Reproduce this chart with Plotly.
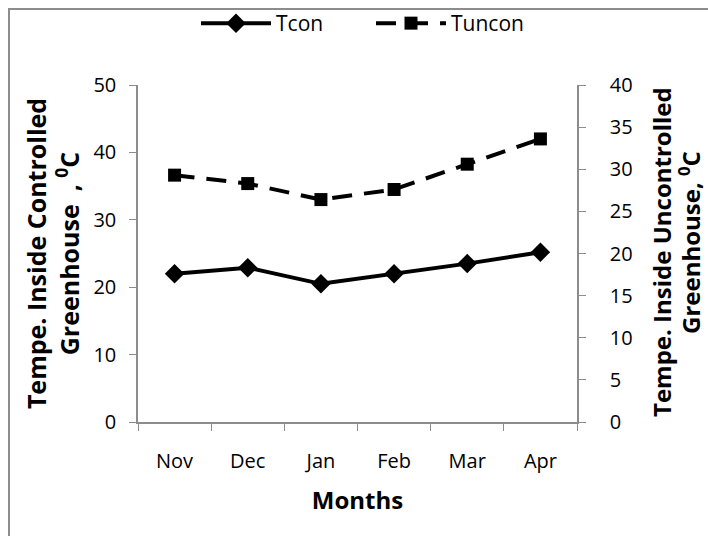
import plotly.graph_objects as go

months = ["Nov", "Dec", "Jan", "Feb", "Mar", "Apr"]
tcon = [22.0, 22.9, 20.5, 22.0, 23.5, 25.2]
tuncon = [29.3, 28.3, 26.4, 27.6, 30.6, 33.6]

W, H = 708, 536
L, R, T, B = 138, 131, 85, 114
pw, ph = W - L - R, H - T - B

def px_x(px):
    return (px - L) / pw

def px_y(py):
    return (H - B - py) / ph

FONT = "Open Sans"
fig = go.Figure()
fig.add_trace(go.Scatter(
    x=months, y=tcon, name="Tcon", mode="lines+markers",
    line=dict(color="black", width=4),
    marker=dict(symbol="diamond", size=15, color="black"),
    yaxis="y"))
fig.add_trace(go.Scatter(
    x=months, y=tuncon, name="Tuncon", mode="lines+markers",
    line=dict(color="black", width=4, dash="20px,12px"),
    marker=dict(symbol="square", size=13, color="black"),
    yaxis="y2"))

axis_common = dict(showgrid=False, zeroline=False, showline=True, linecolor="#8c8c8c",
                   linewidth=1.5, ticks="outside", ticklen=7, tickcolor="#8c8c8c",
                   tickfont=dict(family=FONT, size=20, color="black"))

fig.update_layout(
    width=W, height=H,
    margin=dict(l=L, r=R, t=T, b=B, autoexpand=False),
    paper_bgcolor="white", plot_bgcolor="white",
    font=dict(family=FONT, color="black"),
    showlegend=True,
    legend=dict(orientation="h", x=px_x(196), xanchor="left", y=px_y(3), yanchor="top",
                font=dict(family=FONT, size=21), itemwidth=70, entrywidth=90,
                bgcolor="rgba(0,0,0,0)"),
    xaxis=dict(type="category", tickson="boundaries", range=[-0.5, 5.5],
               ticklabelstandoff=20,
               title=dict(text="<b>Months</b>", font=dict(family=FONT, size=24), standoff=19),
               **axis_common),
    yaxis=dict(range=[0, 50], dtick=10, ticklabelstandoff=9,
               title=dict(text="<b>Tempe. Inside Controlled<br>Greenhouse  , <sup>0</sup>C</b>",
                          font=dict(family=FONT, size=25), standoff=7),
               **axis_common),
    yaxis2=dict(range=[0, 40], dtick=5, overlaying="y", side="right",
                tickprefix="\u2002\u2002",
                **axis_common),
)

right_title = ["<b>Tempe. Inside Uncontrolled</b>", "<b>Greenhouse, <sup>0</sup>C</b>"]
for txt, xpx, ypx in zip(right_title, [661, 689], [252, 243]):
    fig.add_annotation(text=txt, xref="paper", yref="paper", x=px_x(xpx), y=px_y(ypx),
                       xanchor="center", yanchor="middle", textangle=-90, showarrow=False,
                       font=dict(family=FONT, size=24, color="black"))

fig.add_shape(type="rect", xref="paper", yref="paper",
              x0=px_x(9), x1=px_x(730), y0=px_y(560), y1=px_y(9),
              line=dict(color="#8c8c8c", width=2), fillcolor="rgba(0,0,0,0)", layer="above")

fig.write_html("out.html", config={"displayModeBar": False},
               post_script="document.body.style.margin='0';")
